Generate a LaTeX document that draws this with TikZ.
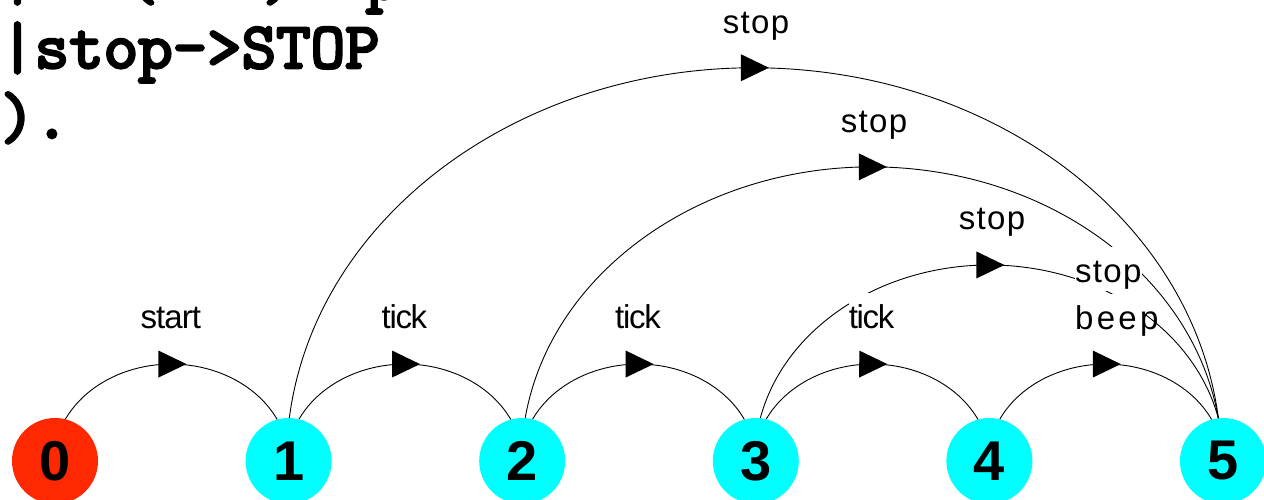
\documentclass[tikz,border=0pt]{standalone}
\usepackage{fontspec}
\setsansfont{Liberation Sans}
\newfontfamily\codefont{lmmono10-regular.otf}[FakeBold=4]
\usetikzlibrary{decorations.markings}
\definecolor{startred}{RGB}{255,40,0}
\definecolor{statecyan}{RGB}{0,255,255}
\tikzset{
  state/.style={circle, minimum size=86pt, inner sep=0pt, fill=statecyan,
    font=\sffamily\bfseries\fontsize{56}{60}\selectfont},
  initstate/.style={state, fill=startred},
  conn/.style={line width=0.9pt, black,
    postaction={decorate, decoration={markings,
      mark=at position 0.5 with {\fill (-13pt,-13.5pt) -- (15pt,0pt) -- (-13pt,13.5pt) -- cycle;}}}},
  lbl/.style={fill=white, inner sep=0pt, text height=36pt, text depth=8pt,
    font=\sffamily\fontsize{33}{38}\selectfont, anchor=base},
  code/.style={inner sep=0pt, anchor=base west,
    font=\codefont\fontsize{65.7}{70}\selectfont}
}
\begin{document}
\begin{tikzpicture}[x=1pt, y=1pt]
\useasboundingbox (0,0) rectangle (1264,500);
\clip (0,0) rectangle (1264,500);
% code fragment
\node[code] (c1a) at (0,501) {|};
\node[code] (c1b) at (124,501) {(\hspace{103.5pt})\hspace{69pt}p};
\node[code] (c2) at (0,432) {|stop->STOP};
\node[code] (c3) at (0,362) {).};
% states
\node[initstate] (n0) at (55,39) {0};
\node[state] (n1) at (288.6,39) {1};
\node[state] (n2) at (522.2,39) {2};
\node[state] (n3) at (755.8,39) {3};
\node[state] (n4) at (989.4,39) {4};
\node[state] (n5) at (1223,39) {5};
% short transitions
\draw[conn] (n0.76.6) arc[start angle=153.97, end angle=26.03, x radius=117.7, y radius=98] -- (n1.106.2);
\draw[conn] (n1.76.6) arc[start angle=153.97, end angle=26.03, x radius=117.7, y radius=98] -- (n2.106.2);
\draw[conn] (n2.76.6) arc[start angle=153.97, end angle=26.03, x radius=117.7, y radius=98] -- (n3.106.2);
\draw[conn] (n3.76.6) arc[start angle=153.97, end angle=26.03, x radius=117.7, y radius=98] -- (n4.106.2);
\draw[conn] (n4.76.6) arc[start angle=153.97, end angle=26.03, x radius=117.7, y radius=98] -- (n5.106.2);
% long stop transitions
\draw[conn] (n1.89) arc[start angle=173.72, end angle=6.28, x radius=467.3, y radius=393] -- (n5.96);
\draw[conn] (n2.86) arc[start angle=171.59, end angle=8.41, x radius=350.3, y radius=294] -- (n5.96);
\draw[conn] (n3.84) arc[start angle=167.33, end angle=12.67, x radius=234.7, y radius=196] -- (n5.96);
% labels
\node[lbl] (l01) at (170.8,171) {\addfontfeature{LetterSpace=-3}start};
\node[lbl] (l12) at (404.4,171) {\addfontfeature{LetterSpace=-4}tick};
\node[lbl] (l23) at (638.0,171) {\addfontfeature{LetterSpace=-4}tick};
\node[lbl] (l34) at (871.6,171) {\addfontfeature{LetterSpace=-4}tick};
\node[lbl] (l15) at (756,466) {\addfontfeature{LetterSpace=4}stop};
\node[lbl] (l25) at (874,367) {\addfontfeature{LetterSpace=4}stop};
\node[lbl, text height=29pt] (l35) at (992,270) {\addfontfeature{LetterSpace=4}stop};
\node[lbl, anchor=base west] (l45a) at (1075,217) {\addfontfeature{LetterSpace=4}stop};
\node[lbl, anchor=base west] (l45b) at (1075,170) {\makebox[67pt][l]{\addfontfeature{LetterSpace=10}beep}};
\end{tikzpicture}
\end{document}
